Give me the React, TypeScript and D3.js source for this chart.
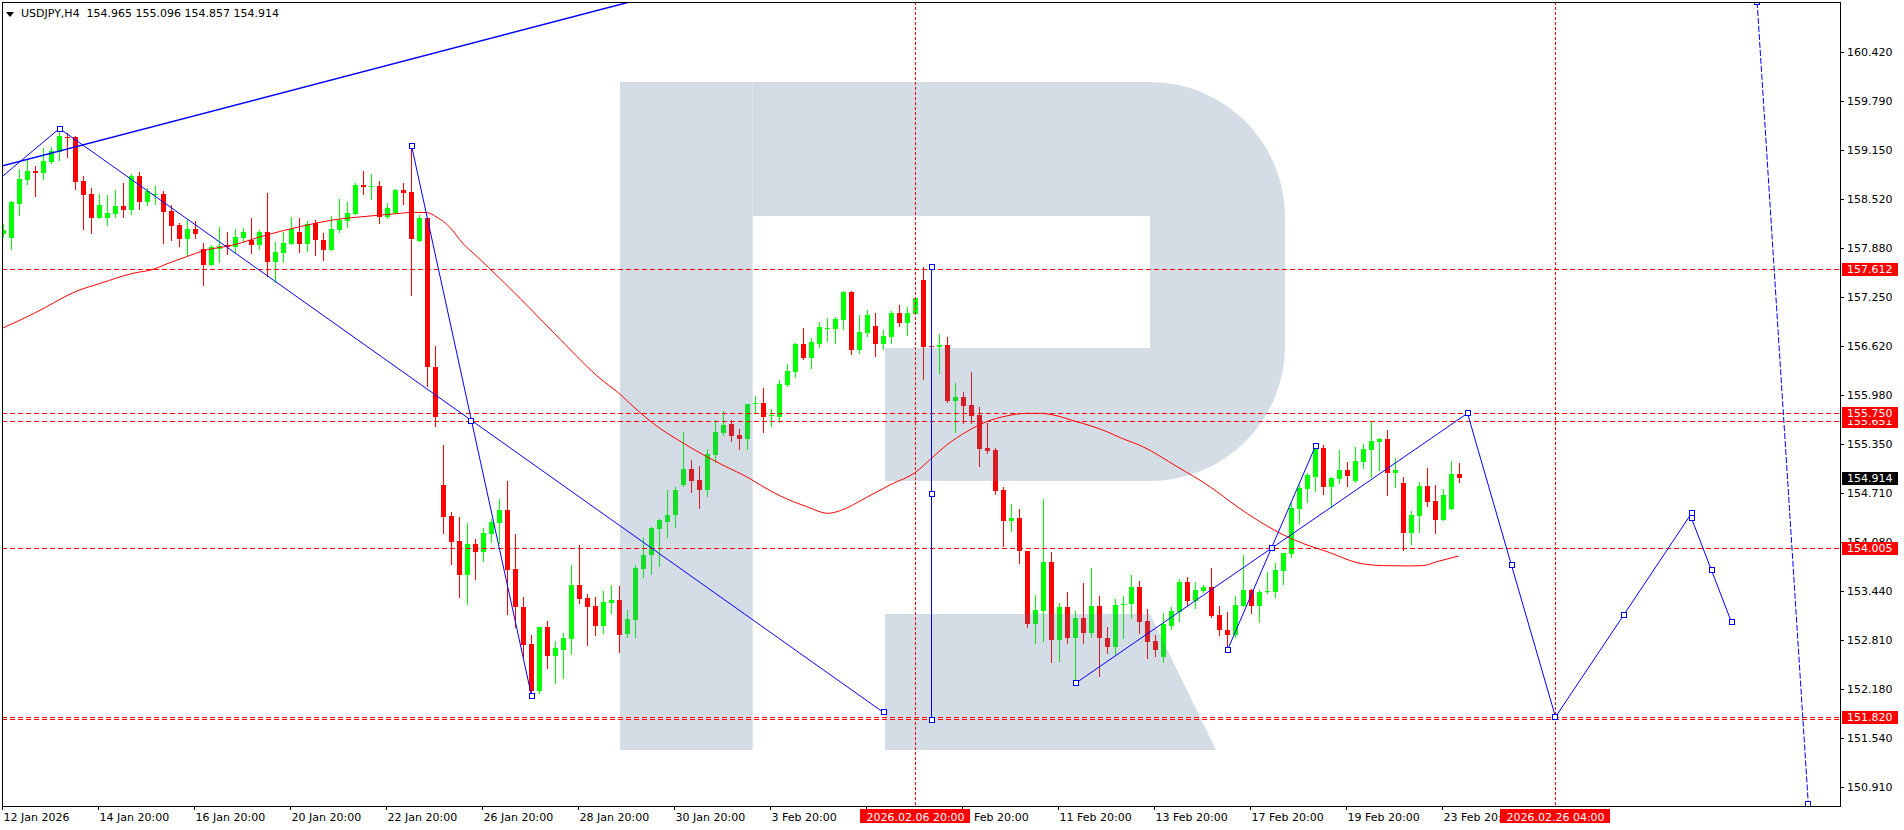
import { useMemo } from "react";
import * as d3 from "d3";

// USDJPY H4 candles, one entry per bar (bar 0 = 12 Jan 20:00)
const opens = [
  158.066, 158.018, 158.458, 158.769, 158.881, 158.859, 158.997, 159.131, 159.325, 159.316,
  158.751, 158.583, 158.277, 158.277, 158.329, 158.424, 158.381, 158.816, 158.484, 158.566,
  158.583, 158.368, 158.178, 158.005, 158.130, 157.872, 157.669, 157.876, 157.919, 157.902,
  158.010, 157.992, 157.923, 158.091, 157.708, 157.824, 157.941, 158.091, 157.941, 158.208,
  157.988, 157.859, 158.117, 158.234, 158.329, 158.695, 158.674, 158.686, 158.290, 158.333,
  158.635, 158.613, 157.979, 158.268, 156.349, 154.817, 154.416, 154.093, 153.657, 154.054,
  153.955, 154.188, 154.330, 154.494, 153.731, 153.239, 152.760, 152.157, 152.980, 152.609,
  152.687, 152.829, 153.524, 153.351, 153.252, 152.998, 153.295, 153.330, 152.894, 153.075,
  153.735, 153.908, 154.253, 154.343, 154.429, 154.817, 155.024, 154.882, 154.757, 155.210,
  155.495, 155.607, 155.464, 155.417, 155.862, 155.875, 155.706, 155.702, 156.112, 156.284,
  156.646, 156.461, 156.646, 156.836, 156.836, 156.953, 157.315, 156.565, 156.789, 156.875,
  156.646, 156.737, 157.039, 156.918, 157.035, 157.470, 156.616, 156.599, 156.625, 155.909,
  155.952, 155.849, 155.724, 155.297, 155.271, 154.753, 154.356, 154.391, 153.964, 153.019,
  153.192, 153.822, 152.817, 153.240, 152.843, 153.097, 152.899, 153.252, 152.843, 152.718,
  153.261, 153.283, 153.498, 153.058, 152.800, 152.597, 152.998, 153.179, 153.563, 153.313,
  153.446, 153.498, 153.136, 152.942, 152.877, 153.257, 153.459, 153.257, 153.429, 153.438,
  153.705, 153.925, 154.507, 154.766, 154.926, 155.292, 154.796, 154.900, 155.012, 154.874,
  155.120, 155.271, 155.379, 155.409, 154.977, 154.839, 154.201, 154.421, 154.805, 154.611,
  154.369, 154.507, 154.965,
];
const highs = [
  158.195, 158.497, 158.907, 159.023, 158.945, 159.174, 159.187, 159.411, 159.377, 159.334,
  158.816, 158.657, 158.583, 158.570, 158.635, 158.726, 158.842, 158.868, 158.657, 158.687,
  158.622, 158.437, 158.212, 158.247, 158.229, 157.945, 157.923, 158.156, 158.091, 158.130,
  158.148, 158.277, 158.117, 158.596, 157.962, 158.096, 158.286, 158.277, 158.234, 158.247,
  158.079, 158.299, 158.518, 158.475, 158.730, 158.876, 158.842, 158.755, 158.471, 158.643,
  158.730, 159.217, 158.311, 158.268, 156.616, 155.335, 154.472, 154.408, 154.326, 154.119,
  154.261, 154.382, 154.641, 154.869, 154.184, 153.368, 152.877, 152.980, 153.058, 152.803,
  152.898, 153.782, 154.041, 153.407, 153.373, 153.446, 153.524, 153.511, 153.200, 153.782,
  154.132, 154.278, 154.378, 154.753, 154.787, 155.508, 155.141, 155.063, 155.283, 155.658,
  155.775, 155.658, 155.538, 155.866, 155.969, 156.073, 155.801, 156.176, 156.383, 156.659,
  156.845, 156.720, 156.927, 156.975, 156.987, 157.328, 157.324, 157.017, 157.082, 157.048,
  156.823, 157.069, 157.147, 157.125, 157.242, 157.634, 156.630, 156.772, 156.728, 156.133,
  156.017, 156.280, 155.831, 155.616, 155.292, 154.788, 154.572, 154.507, 153.964, 153.395,
  154.641, 153.951, 153.291, 153.434, 153.188, 153.546, 153.744, 153.382, 152.985, 153.347,
  153.382, 153.653, 153.576, 153.214, 152.877, 153.158, 153.239, 153.597, 153.628, 153.563,
  153.524, 153.744, 153.252, 153.175, 153.382, 153.912, 153.472, 153.459, 153.692, 153.804,
  153.942, 154.581, 154.818, 154.973, 155.322, 155.335, 154.917, 155.271, 155.120, 155.310,
  155.344, 155.637, 155.430, 155.529, 155.163, 154.917, 154.481, 154.852, 155.038, 154.818,
  154.762, 155.133, 155.096,
];
const lows = [
  158.031, 157.876, 158.316, 158.713, 158.562, 158.782, 158.980, 159.023, 159.066, 158.648,
  158.130, 158.083, 158.277, 158.182, 158.290, 158.290, 158.329, 158.393, 158.441, 158.450,
  157.945, 157.992, 157.915, 157.790, 158.018, 157.410, 157.669, 157.708, 157.807, 157.837,
  157.975, 157.824, 157.872, 157.527, 157.449, 157.708, 157.941, 157.837, 157.846, 157.794,
  157.729, 157.859, 158.091, 158.156, 158.329, 158.583, 158.518, 158.212, 158.268, 158.333,
  158.454, 157.276, 157.979, 156.099, 155.581, 154.201, 153.800, 153.373, 153.282, 153.601,
  153.834, 154.080, 154.071, 153.153, 152.985, 152.596, 152.096, 152.131, 152.454, 152.256,
  152.325, 152.635, 153.287, 152.752, 152.881, 152.907, 153.157, 152.661, 152.855, 152.855,
  153.632, 153.666, 153.774, 154.149, 154.278, 154.804, 154.731, 154.524, 154.680, 155.119,
  155.464, 155.391, 155.279, 155.288, 155.745, 155.508, 155.586, 155.637, 156.099, 156.220,
  156.444, 156.336, 156.608, 156.681, 156.660, 156.836, 156.513, 156.530, 156.746, 156.487,
  156.578, 156.651, 156.879, 156.763, 157.035, 156.193, 156.590, 156.263, 155.892, 155.508,
  155.625, 155.625, 155.068, 155.236, 154.706, 154.029, 154.227, 153.813, 152.976, 152.778,
  152.804, 152.532, 152.545, 152.778, 152.260, 152.778, 152.856, 152.351, 152.649, 152.619,
  152.834, 153.101, 152.899, 152.584, 152.610, 152.532, 152.959, 153.063, 153.265, 153.231,
  153.438, 153.114, 152.882, 152.692, 152.856, 153.257, 153.166, 153.050, 153.416, 153.373,
  153.533, 153.891, 154.331, 154.602, 154.740, 154.697, 154.538, 154.848, 154.805, 154.861,
  155.042, 154.926, 155.012, 154.688, 154.788, 153.977, 154.055, 154.214, 154.546, 154.201,
  154.369, 154.507, 154.857,
];
const closes = [
  158.117, 158.484, 158.777, 158.881, 158.859, 159.010, 159.140, 159.334, 159.312, 158.743,
  158.570, 158.277, 158.437, 158.337, 158.424, 158.381, 158.816, 158.484, 158.622, 158.583,
  158.355, 158.173, 158.005, 158.130, 158.070, 157.669, 157.897, 157.910, 157.902, 158.027,
  158.091, 157.923, 158.091, 157.708, 157.833, 157.949, 158.130, 157.941, 158.191, 157.988,
  157.859, 158.130, 158.251, 158.337, 158.695, 158.674, 158.687, 158.290, 158.398, 158.635,
  158.600, 157.996, 158.268, 156.349, 155.702, 154.408, 154.084, 153.657, 154.054, 153.955,
  154.196, 154.339, 154.494, 153.718, 153.243, 152.752, 152.157, 152.980, 152.609, 152.713,
  152.842, 153.524, 153.347, 153.243, 152.998, 153.304, 153.330, 152.881, 153.084, 153.744,
  153.912, 154.261, 154.365, 154.429, 154.753, 155.024, 154.874, 154.757, 155.219, 155.503,
  155.594, 155.456, 155.417, 155.866, 155.875, 155.702, 155.724, 156.125, 156.293, 156.646,
  156.461, 156.668, 156.862, 156.849, 156.961, 157.315, 156.565, 156.797, 157.017, 156.646,
  156.746, 157.039, 156.918, 157.039, 157.233, 156.608, 156.599, 156.625, 155.905, 155.952,
  155.844, 155.715, 155.288, 155.262, 154.745, 154.356, 154.391, 153.968, 153.019, 153.200,
  153.822, 152.817, 153.240, 152.843, 153.097, 152.899, 153.252, 152.843, 152.726, 153.261,
  153.278, 153.498, 153.050, 152.791, 152.687, 153.015, 153.188, 153.563, 153.321, 153.459,
  153.498, 153.123, 152.942, 152.877, 153.265, 153.459, 153.257, 153.438, 153.446, 153.718,
  153.942, 154.525, 154.783, 154.947, 155.292, 154.796, 154.904, 155.012, 154.939, 155.128,
  155.284, 155.387, 155.409, 154.977, 155.012, 154.201, 154.430, 154.805, 154.602, 154.369,
  154.689, 154.960, 154.914,
];

// moving average (bar position, price)
const maBars = [
  -0.5, 3.7, 9.2, 12.1, 16.2, 18.7, 20.4, 22.9, 24.9, 28.7, 32.9, 37.1, 41.2, 45.8, 49.6,
  51.2, 52.9, 54.2, 55.8, 57.4, 59.2, 60.6, 64.6, 69.6, 74.8, 76.7, 79.2, 81.2, 85.0, 87.9,
  89.9, 93.3, 94.6, 97.1, 100.4, 103.1, 104.6, 107.9, 110.8, 114.1, 115.9, 117.9, 120.4,
  122.9, 125.4, 127.9, 129.6, 131.2, 133.7, 136.2, 137.9, 139.6, 142.4, 146.7, 150.8, 154.2,
  156.7, 159.2, 162.4, 165.8, 169.2, 172.5, 175.8, 177.4, 179.2, 181.9,
];
const maPrices = [
  156.83, 157.031, 157.328, 157.427, 157.557, 157.608, 157.678, 157.772, 157.846, 157.923,
  158.053, 158.161, 158.247, 158.298, 158.333, 158.346, 158.342, 158.281, 158.152, 157.945,
  157.772, 157.634, 157.23, 156.7, 156.176, 156.025, 155.788, 155.615, 155.357, 155.184,
  155.076, 154.9, 154.818, 154.676, 154.538, 154.451, 154.486, 154.658, 154.818, 154.99,
  155.154, 155.335, 155.508, 155.637, 155.711, 155.745, 155.745, 155.724, 155.65, 155.573,
  155.508, 155.43, 155.314, 155.055, 154.796, 154.538, 154.365, 154.214, 154.063, 153.942,
  153.813, 153.774, 153.77, 153.774, 153.826, 153.899,
];

const priceTicks = [
  160.42, 159.79, 159.15, 158.52, 157.88, 157.25, 156.62, 155.98, 155.35, 154.71, 154.08,
  153.44, 152.81, 152.18, 151.54, 150.91,
];
const timeTickBars = [0, 12, 24, 36, 48, 60, 72, 84, 96, 108, 120, 132, 144, 156, 168, 180];
const timeTickLabels = [
  "12 Jan 2026", "14 Jan 20:00", "16 Jan 20:00", "20 Jan 20:00", "22 Jan 20:00",
  "26 Jan 20:00", "28 Jan 20:00", "30 Jan 20:00", "3 Feb 20:00", "5 Feb 20:00",
  "9 Feb 20:00", "11 Feb 20:00", "13 Feb 20:00", "17 Feb 20:00", "19 Feb 20:00",
  "23 Feb 20:00",
];

// horizontal levels, labels drawn in this order
const levelPrices = [157.612, 155.651, 155.75, 154.005, 151.82];
const plainLevels = [151.79];
const markerBars = [114, 194];
const markerLabels = ["2026.02.06 20:00", "2026.02.26 04:00"];
const lastPrice = 154.914;

// blue drawings
const trendBars = [-1, 79];
const trendPrices = [158.922, 161.087];
const legABars = [-0.5, 7];
const legAPrices = [158.78, 159.43];
const legBBars = [7, 110];
const legBPrices = [159.43, 151.874];
const legCBars = [51, 58.5, 66];
const legCPrices = [159.21, 155.65, 152.09];
const legDBars = [116, 116, 116];
const legDPrices = [157.634, 154.697, 151.78];
const legFBars = [153, 164];
const legFPrices = [152.683, 155.322];
const forecastBars = [134, 158.5, 183, 188.5, 194, 202.5, 211, 211, 213.5, 216];
const forecastPrices = [
  152.252, 153.999, 155.745, 153.778, 151.816, 153.132, 154.451, 154.387, 153.714, 153.041,
];
const dottedBars = [219.2, 225.6];
const dottedPrices = [161.067, 150.69];

const WIDTH = 1904;
const HEIGHT = 830;
const LEFT = 2;
const TOP = 2;
const RIGHT = 1840;
const BOTTOM = 806;
const FONT = "DejaVu Sans";
const BULL = "#00ff00";
const BEAR = "#ff0000";
const BLUE = "#0000ff";

const App = () => {
  const xScale = useMemo(
    () => d3.scaleLinear().domain([0, 229]).range([3.5, 3.5 + 229 * 8]),
    []
  );
  const yScale = useMemo(
    () => d3.scaleLinear().domain([150.91, 160.42]).range([787, 52]),
    []
  );

  const lineOf = (bars: number[], prices: number[]) =>
    d3
      .line<number>()
      .x((i) => xScale(bars[i]))
      .y((i) => yScale(prices[i]))(bars.map((_, i) => i)) || "";

  const maPath =
    d3
      .line<number>()
      .x((i) => xScale(maBars[i]))
      .y((i) => yScale(maPrices[i]))
      .curve(d3.curveMonotoneX)(maBars.map((_, i) => i)) || "";

  const candles = opens.map((o, i) => {
    const c = closes[i];
    const cx = xScale(i);
    const color = c >= o ? BULL : BEAR;
    const top = Math.round(yScale(Math.max(o, c)));
    const bot = Math.round(yScale(Math.min(o, c)));
    return (
      <g key={i}>
        <line
          x1={cx}
          x2={cx}
          y1={Math.round(yScale(highs[i]))}
          y2={Math.round(yScale(lows[i])) + 1}
          stroke={color}
        />
        <rect x={cx - 2.5} y={top} width={5} height={Math.max(1, bot - top)} fill={color} />
      </g>
    );
  });

  const squares = (bars: number[], prices: number[], skip: number[] = []) =>
    bars.map((b, i) =>
      skip.includes(i) ? null : (
        <rect
          key={i}
          x={Math.round(xScale(b)) - 2.5}
          y={Math.round(yScale(prices[i])) - 2.5}
          width={5}
          height={5}
          fill="white"
          stroke={BLUE}
        />
      )
    );

  const solidLegs: [number[], number[], number[]][] = [
    [legABars, legAPrices, [0]],
    [legBBars, legBPrices, []],
    [legCBars, legCPrices, []],
    [legDBars, legDPrices, []],
    [legFBars, legFPrices, []],
    [forecastBars, forecastPrices, []],
  ];

  return (
    <svg
      width={WIDTH}
      height={HEIGHT}
      style={{ position: "absolute", left: 0, top: 0, background: "white" }}
      fontFamily={FONT}
    >
      <defs>
        <clipPath id="plot">
          <rect x={LEFT} y={TOP} width={RIGHT - LEFT} height={BOTTOM - TOP} />
        </clipPath>
      </defs>
      <rect width={WIDTH} height={HEIGHT} fill="white" />

      <g clipPath="url(#plot)">
        <g shapeRendering="crispEdges">{candles}</g>

        {/* watermark logo, drawn over the candles */}
        <g fill="#59799f" opacity={0.26}>
          <rect x={620} y={82} width={132.7} height={668} />
          <path d="M752.7,82 H1150 A135,135 0 0 1 1285,217 V346 A135,135 0 0 1 1150,481 H885 V348 H1150 V216 H752.7 Z" />
          <path d="M885,614 H1150 L1216,750 H885 Z" />
        </g>

        <path d={maPath} fill="none" stroke="#ff0000" strokeWidth={1} />

        {[...levelPrices, ...plainLevels].map((p, i) => (
          <line
            key={i}
            x1={LEFT}
            x2={RIGHT}
            y1={Math.round(yScale(p)) + 0.5}
            y2={Math.round(yScale(p)) + 0.5}
            stroke="#ff0000"
            strokeDasharray="5,3"
          />
        ))}
        {markerBars.map((b, i) => (
          <line
            key={i}
            x1={xScale(b)}
            x2={xScale(b)}
            y1={TOP}
            y2={BOTTOM}
            stroke="#ff0000"
            strokeDasharray="3,2"
          />
        ))}

        <path d={lineOf(trendBars, trendPrices)} fill="none" stroke={BLUE} strokeWidth={1.5} />
        {solidLegs.map(([b, p], i) => (
          <path key={i} d={lineOf(b, p)} fill="none" stroke={BLUE} strokeWidth={1} />
        ))}
        <path
          d={lineOf(dottedBars, dottedPrices)}
          fill="none"
          stroke={BLUE}
          strokeWidth={1}
          strokeDasharray="6,2"
        />
        <g shapeRendering="crispEdges">
          {solidLegs.map(([b, p, skip], i) => (
            <g key={i}>{squares(b, p, skip)}</g>
          ))}
          {squares(dottedBars, dottedPrices)}
        </g>
      </g>

      {/* frame */}
      <g shapeRendering="crispEdges" stroke="black" fill="none">
        <line x1={LEFT + 0.5} x2={LEFT + 0.5} y1={TOP} y2={BOTTOM} />
        <line x1={LEFT} x2={RIGHT} y1={TOP + 0.5} y2={TOP + 0.5} />
        <line x1={RIGHT + 0.5} x2={RIGHT + 0.5} y1={TOP} y2={BOTTOM + 1} />
        <line x1={LEFT} x2={RIGHT + 1} y1={BOTTOM + 0.5} y2={BOTTOM + 0.5} />
      </g>

      {/* header */}
      <polygon points="6,12 14,12 10,17" fill="black" />
      <text x={21} y={17} fontSize={11} fill="black" style={{ whiteSpace: "pre" }}>
        {`USDJPY,H4  ${opens[182].toFixed(3)} ${highs[182].toFixed(3)} ${lows[182].toFixed(3)} ${closes[182].toFixed(3)}`}
      </text>

      {/* price axis */}
      {priceTicks.map((p, i) => {
        const y = Math.round(yScale(p)) + 0.5;
        return (
          <g key={i}>
            <line x1={RIGHT} x2={RIGHT + 4} y1={y} y2={y} stroke="black" shapeRendering="crispEdges" />
            <text x={1847} y={y} dy="0.35em" fontSize={11} fill="black">
              {p.toFixed(3)}
            </text>
          </g>
        );
      })}
      {levelPrices.map((p, i) => {
        const y = Math.round(yScale(p));
        return (
          <g key={i}>
            <rect x={1842} y={y - 6} width={56} height={13} fill="#ff0000" />
            <text x={1847} y={y + 0.5} dy="0.35em" fontSize={11} fill="white">
              {p.toFixed(3)}
            </text>
          </g>
        );
      })}
      <rect x={1842} y={Math.round(yScale(lastPrice)) - 6} width={56} height={13} fill="black" />
      <text x={1847} y={Math.round(yScale(lastPrice)) + 0.5} dy="0.35em" fontSize={11} fill="white">
        {lastPrice.toFixed(3)}
      </text>

      {/* time axis */}
      {timeTickBars.map((b, i) => {
        const x = Math.round(xScale(b)) - 1.5;
        return (
          <g key={i}>
            <line x1={x} x2={x} y1={BOTTOM} y2={BOTTOM + 4} stroke="black" shapeRendering="crispEdges" />
            <text x={x + 1} y={821} fontSize={11} fill="black">
              {timeTickLabels[i]}
            </text>
          </g>
        );
      })}
      {markerBars.map((b, i) => (
        <g key={i}>
          <rect x={xScale(b) - 55.5} y={809} width={110} height={14} fill="#ff0000" />
          <text x={xScale(b)} y={820.5} textAnchor="middle" fontSize={11} fill="white">
            {markerLabels[i]}
          </text>
        </g>
      ))}
    </svg>
  );
};

export default App;
